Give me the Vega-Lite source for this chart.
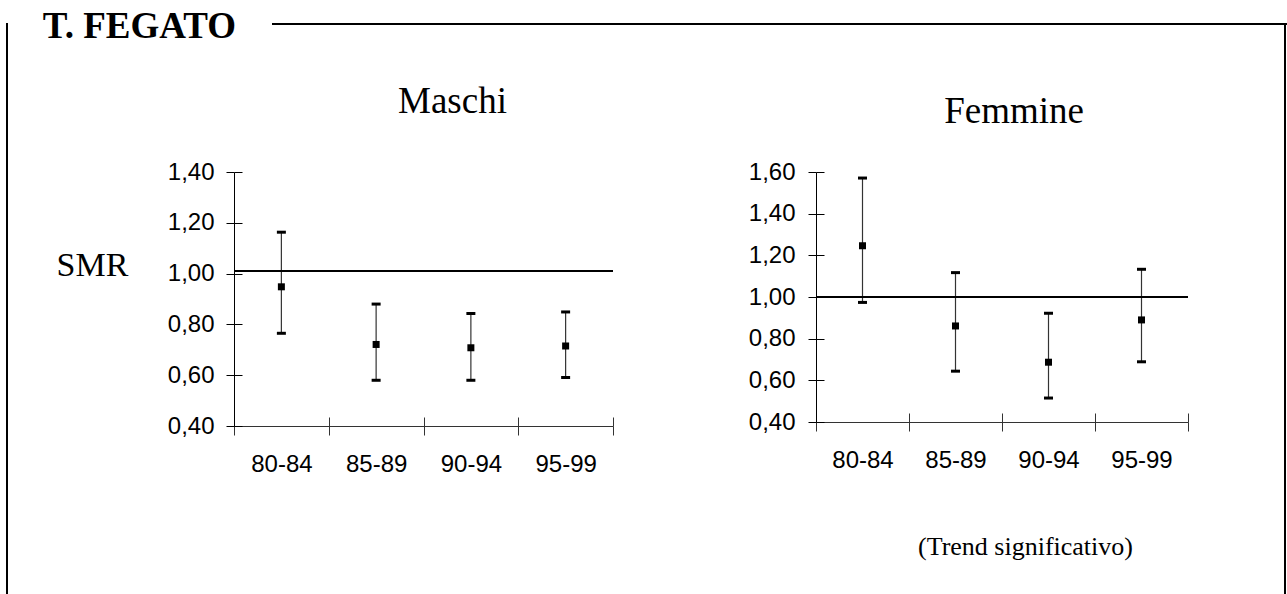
{
  "$schema": "https://vega.github.io/schema/vega-lite/v6.json",
  "background": "white",
  "padding": {"left": 6, "top": 8, "right": 0, "bottom": 0},
  "datasets": {
    "maschi": [
      {"periodo": "80-84", "smr": 0.948, "lo": 0.765, "hi": 1.163},
      {"periodo": "85-89", "smr": 0.721, "lo": 0.58, "hi": 0.88},
      {"periodo": "90-94", "smr": 0.708, "lo": 0.58, "hi": 0.843},
      {"periodo": "95-99", "smr": 0.715, "lo": 0.591, "hi": 0.849}
    ],
    "femmine": [
      {"periodo": "80-84", "smr": 1.246, "lo": 0.974, "hi": 1.571},
      {"periodo": "85-89", "smr": 0.861, "lo": 0.644, "hi": 1.117},
      {"periodo": "90-94", "smr": 0.687, "lo": 0.515, "hi": 0.922},
      {"periodo": "95-99", "smr": 0.89, "lo": 0.689, "hi": 1.133}
    ],
    "riferimento": [
      {"sesso": "Maschi", "valore": 1.01},
      {"sesso": "Femmine", "valore": 1.0}
    ]
  },
  "config": {
    "view": {"stroke": null},
    "font": "Liberation Sans",
    "axis": {"grid": false}
  },
  "bounds": "flush",
  "spacing": 226,
  "hconcat": [
    {
      "width": 0.001,
      "height": 571,
      "view": {"stroke": "black", "strokeWidth": 2},
      "data": {"name": "maschi"},
      "mark": {"type": "point", "opacity": 0, "size": 0}
    },
    {
      "bounds": "flush",
      "spacing": 1051,
      "hconcat": [
        {
          "bounds": "flush",
          "spacing": 148,
          "vconcat": [
            {
              "bounds": "flush",
              "spacing": 0,
              "hconcat": [
                {
                  "width": 39,
                  "height": 0.001,
                  "data": {"name": "maschi"},
                  "mark": {"type": "point", "opacity": 0, "size": 0},
                  "title": {
                    "text": "T. FEGATO",
                    "orient": "top",
                    "anchor": "end",
                    "frame": "group",
                    "align": "right",
                    "baseline": "alphabetic",
                    "offset": -15,
                    "dx": -37,
                    "dy": 36,
                    "font": "Liberation Serif",
                    "fontSize": 37,
                    "fontWeight": "bold",
                    "color": "black"
                  }
                },
                {
                  "width": 1014,
                  "height": 0.001,
                  "view": {"stroke": "black", "strokeWidth": 2},
                  "data": {"name": "maschi"},
                  "mark": {"type": "point", "opacity": 0, "size": 0}
                }
              ]
            },
            {
              "bounds": "flush",
              "spacing": 203,
              "hconcat": [
                {
                  "width": 379,
                  "height": 254,
                  "data": {"name": "maschi"},
                  "title": {
                    "text": "Maschi",
                    "frame": "group",
                    "anchor": "middle",
                    "baseline": "alphabetic",
                    "offset": 10,
                    "dx": 29,
                    "font": "Liberation Serif",
                    "fontSize": 37,
                    "fontWeight": "normal",
                    "color": "black"
                  },
                  "resolve": {"axis": {"x": "independent", "y": "independent"}},
                  "layer": [
                    {
                      "layer": [
                        {
                          "mark": {"type": "rule", "color": "#333", "strokeWidth": 1.2},
                          "encoding": {
                            "x": {
                              "field": "periodo", "type": "nominal", "sort": null,
                              "scale": {"type": "band", "paddingInner": 0, "paddingOuter": 0},
                              "axis": {
                                "orient": "bottom", "title": null, "labelAngle": 0,
                                "tickBand": "extent", "tickSize": 9, "labelPadding": 17,
                                "labelFont": "Liberation Sans", "labelFontSize": 24, "labelColor": "black",
                                "domainColor": "#333", "tickColor": "#333"
                              }
                            },
                            "y": {
                              "field": "lo", "type": "quantitative",
                              "scale": {"domain": [0.4, 1.4], "nice": false, "zero": false},
                              "axis": {
                                "orient": "left",
                                "values": [0.4, 0.6, 0.8, 1.0, 1.2, 1.4],
                                "labelExpr": "replace(format(datum.value, '.2f'), '.', ',')",
                                "tickSize": 8, "labelPadding": 12,
                                "labelFont": "Liberation Sans", "labelFontSize": 24, "labelColor": "black",
                                "domainColor": "black", "tickColor": "black",
                                "title": "SMR", "titleAngle": 0, "titleAlign": "left", "titleBaseline": "alphabetic",
                                "titleX": -178, "titleY": 103,
                                "titleFont": "Liberation Serif", "titleFontSize": 34, "titleFontWeight": "normal", "titleColor": "black"
                              }
                            },
                            "y2": {"field": "hi"}
                          }
                        },
                        {
                          "mark": {"type": "tick", "orient": "horizontal", "size": 9, "thickness": 3, "color": "black", "opacity": 1},
                          "encoding": {
                            "x": {"field": "periodo", "type": "nominal", "sort": null},
                            "y": {"field": "lo", "type": "quantitative", "scale": {"domain": [0.4, 1.4], "nice": false, "zero": false}}
                          }
                        },
                        {
                          "mark": {"type": "tick", "orient": "horizontal", "size": 9, "thickness": 3, "color": "black", "opacity": 1},
                          "encoding": {
                            "x": {"field": "periodo", "type": "nominal", "sort": null},
                            "y": {"field": "hi", "type": "quantitative", "scale": {"domain": [0.4, 1.4], "nice": false, "zero": false}}
                          }
                        },
                        {
                          "data": {"name": "riferimento"},
                          "transform": [{"filter": "datum.sesso == 'Maschi'"}],
                          "mark": {"type": "rule", "color": "black", "strokeWidth": 2},
                          "encoding": {
                            "y": {"field": "valore", "type": "quantitative", "scale": {"domain": [0.4, 1.4], "nice": false, "zero": false}}
                          }
                        }
                      ]
                    },
                    {
                      "mark": {"type": "point", "shape": "square", "filled": true, "size": 49, "color": "black", "opacity": 1},
                      "encoding": {
                        "x": {
                          "field": "periodo", "type": "nominal", "sort": null,
                          "scale": {"type": "band", "paddingInner": 0, "paddingOuter": 0},
                          "axis": {"orient": "bottom", "title": null, "labels": false, "domain": false, "tickBand": "extent", "tickSize": -9, "tickColor": "#333"}
                        },
                        "y": {
                          "field": "smr", "type": "quantitative",
                          "scale": {"domain": [0.4, 1.4], "nice": false, "zero": false},
                          "axis": {"orient": "left", "title": null, "labels": false, "domain": false, "values": [0.4, 0.6, 0.8, 1.0, 1.2, 1.4], "tickSize": -8, "tickColor": "black"}
                        }
                      }
                    }
                  ]
                },
                {
                  "width": 372,
                  "height": 250,
                  "data": {"name": "femmine"},
                  "title": {
                    "text": "Femmine",
                    "frame": "group",
                    "anchor": "middle",
                    "baseline": "alphabetic",
                    "offset": 0,
                    "dx": 12,
                    "font": "Liberation Serif",
                    "fontSize": 37,
                    "fontWeight": "normal",
                    "color": "black"
                  },
                  "resolve": {"axis": {"x": "independent", "y": "independent"}},
                  "layer": [
                    {
                      "layer": [
                        {
                          "mark": {"type": "rule", "color": "#333", "strokeWidth": 1.2},
                          "encoding": {
                            "x": {
                              "field": "periodo", "type": "nominal", "sort": null,
                              "scale": {"type": "band", "paddingInner": 0, "paddingOuter": 0},
                              "axis": {
                                "orient": "bottom", "labelAngle": 0,
                                "tickBand": "extent", "tickSize": 9, "labelPadding": 17,
                                "labelFont": "Liberation Sans", "labelFontSize": 24, "labelColor": "black",
                                "domainColor": "#333", "tickColor": "#333",
                                "title": "(Trend significativo)", "titleX": 209, "titleY": 132,
                                "titleAlign": "center", "titleBaseline": "alphabetic",
                                "titleFont": "Liberation Serif", "titleFontSize": 26, "titleFontWeight": "normal", "titleColor": "black"
                              }
                            },
                            "y": {
                              "field": "lo", "type": "quantitative",
                              "scale": {"domain": [0.4, 1.6], "nice": false, "zero": false},
                              "axis": {
                                "orient": "left",
                                "values": [0.4, 0.6, 0.8, 1.0, 1.2, 1.4, 1.6],
                                "labelExpr": "replace(format(datum.value, '.2f'), '.', ',')",
                                "tickSize": 8, "labelPadding": 13,
                                "labelFont": "Liberation Sans", "labelFontSize": 24, "labelColor": "black",
                                "domainColor": "black", "tickColor": "black",
                                "title": null
                              }
                            },
                            "y2": {"field": "hi"}
                          }
                        },
                        {
                          "mark": {"type": "tick", "orient": "horizontal", "size": 9, "thickness": 3, "color": "black", "opacity": 1},
                          "encoding": {
                            "x": {"field": "periodo", "type": "nominal", "sort": null},
                            "y": {"field": "lo", "type": "quantitative", "scale": {"domain": [0.4, 1.6], "nice": false, "zero": false}}
                          }
                        },
                        {
                          "mark": {"type": "tick", "orient": "horizontal", "size": 9, "thickness": 3, "color": "black", "opacity": 1},
                          "encoding": {
                            "x": {"field": "periodo", "type": "nominal", "sort": null},
                            "y": {"field": "hi", "type": "quantitative", "scale": {"domain": [0.4, 1.6], "nice": false, "zero": false}}
                          }
                        },
                        {
                          "data": {"name": "riferimento"},
                          "transform": [{"filter": "datum.sesso == 'Femmine'"}],
                          "mark": {"type": "rule", "color": "black", "strokeWidth": 2},
                          "encoding": {
                            "y": {"field": "valore", "type": "quantitative", "scale": {"domain": [0.4, 1.6], "nice": false, "zero": false}}
                          }
                        }
                      ]
                    },
                    {
                      "mark": {"type": "point", "shape": "square", "filled": true, "size": 49, "color": "black", "opacity": 1},
                      "encoding": {
                        "x": {
                          "field": "periodo", "type": "nominal", "sort": null,
                          "scale": {"type": "band", "paddingInner": 0, "paddingOuter": 0},
                          "axis": {"orient": "bottom", "title": null, "labels": false, "domain": false, "tickBand": "extent", "tickSize": -9, "tickColor": "#333"}
                        },
                        "y": {
                          "field": "smr", "type": "quantitative",
                          "scale": {"domain": [0.4, 1.6], "nice": false, "zero": false},
                          "axis": {"orient": "left", "title": null, "labels": false, "domain": false, "values": [0.4, 0.6, 0.8, 1.0, 1.2, 1.4, 1.6], "tickSize": -8, "tickColor": "black"}
                        }
                      }
                    }
                  ]
                }
              ]
            }
          ]
        },
        {
          "width": 0.001,
          "height": 571,
          "view": {"stroke": "black", "strokeWidth": 2},
          "data": {"name": "maschi"},
          "mark": {"type": "point", "opacity": 0, "size": 0}
        }
      ]
    }
  ]
}
